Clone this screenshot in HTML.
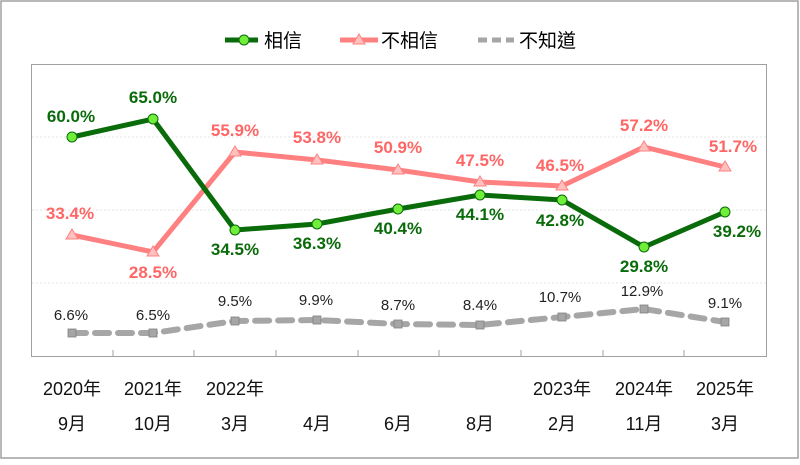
<!DOCTYPE html>
<html><head><meta charset="utf-8"><style>
body{margin:0;background:#fff}
svg text{font-family:"Liberation Sans","Noto Sans CJK TC",sans-serif}
</style></head><body>
<svg width="800" height="460" viewBox="0 0 800 460" xmlns="http://www.w3.org/2000/svg">
<rect x="1" y="1" width="797" height="457" fill="#fff" stroke="#a0a0a0" stroke-width="1.5"/>
<line x1="225" y1="40" x2="258" y2="40" stroke="#0a6b0a" stroke-width="5"/>
<circle cx="244" cy="40" r="5" fill="#6fef3a" stroke="#0a6b0a"/>
<text x="264" y="47" font-size="19" fill="#000">相信</text>
<line x1="340" y1="40" x2="378" y2="40" stroke="#ff8080" stroke-width="5"/>
<polygon points="359,34 365,44 353,44" fill="#ffc0c0" stroke="#ff8080"/>
<text x="381" y="47" font-size="19" fill="#000">不相信</text>
<line x1="478" y1="40" x2="514" y2="40" stroke="#a6a6a6" stroke-width="5" stroke-dasharray="9,5"/>
<text x="519" y="47" font-size="19" fill="#000">不知道</text>
<rect x="31.5" y="64.5" width="735" height="292" fill="#fff" stroke="#a0a0a0"/>
<g stroke="#e4e4e4" stroke-dasharray="2,2"><line x1="32" y1="137" x2="766" y2="137"/><line x1="32" y1="210" x2="766" y2="210"/><line x1="32" y1="283" x2="766" y2="283"/></g>
<g stroke="#a0a0a0"><line x1="113" y1="350" x2="113" y2="356"/><line x1="194" y1="350" x2="194" y2="356"/><line x1="276" y1="350" x2="276" y2="356"/><line x1="358" y1="350" x2="358" y2="356"/><line x1="439" y1="350" x2="439" y2="356"/><line x1="521" y1="350" x2="521" y2="356"/><line x1="603" y1="350" x2="603" y2="356"/><line x1="684" y1="350" x2="684" y2="356"/></g>
<polyline points="72,333 153,333 235,321 317,320 398,324 480,325 562,317 644,309 725,322" fill="none" stroke="#a6a6a6" stroke-width="6" stroke-dasharray="14,9" stroke-linecap="round"/>
<g fill="#a6a6a6" stroke="#808080" stroke-width="0.8">
<rect x="68" y="329" width="8" height="8"/><rect x="149" y="329" width="8" height="8"/><rect x="231" y="317" width="8" height="8"/><rect x="313" y="316" width="8" height="8"/><rect x="394" y="320" width="8" height="8"/><rect x="476" y="321" width="8" height="8"/><rect x="558" y="313" width="8" height="8"/><rect x="640" y="305" width="8" height="8"/><rect x="721" y="318" width="8" height="8"/></g>
<polyline points="72,235 153,252 235,152 317,160 398,170 480,182 562,186 644,147 725,167" fill="none" stroke="#ff8080" stroke-width="5"/>
<g fill="#ffc0c0" stroke="#ff8080">
<polygon points="72,229 78,239 66,239"/><polygon points="153,246 159,256 147,256"/><polygon points="235,146 241,156 229,156"/><polygon points="317,154 323,164 311,164"/><polygon points="398,164 404,174 392,174"/><polygon points="480,176 486,186 474,186"/><polygon points="562,180 568,190 556,190"/><polygon points="644,141 650,151 638,151"/><polygon points="725,161 731,171 719,171"/></g>
<polyline points="72,137 153,119 235,230 317,224 398,209 480,195 562,200 644,247 725,212" fill="none" stroke="#0a6b0a" stroke-width="5"/>
<g fill="#6fef3a" stroke="#0a6b0a">
<circle cx="72" cy="137" r="5"/><circle cx="153" cy="119" r="5"/><circle cx="235" cy="230" r="5"/><circle cx="317" cy="224" r="5"/><circle cx="398" cy="209" r="5"/><circle cx="480" cy="195" r="5"/><circle cx="562" cy="200" r="5"/><circle cx="644" cy="247" r="5"/><circle cx="725" cy="212" r="5"/></g>
<g font-size="17" font-weight="bold" fill="#0a6b0a" text-anchor="middle">
<text x="71" y="122">60.0%</text><text x="153" y="103">65.0%</text><text x="235" y="255">34.5%</text><text x="317" y="249">36.3%</text><text x="398" y="234">40.4%</text><text x="480" y="220">44.1%</text><text x="560" y="226">42.8%</text><text x="644" y="272">29.8%</text><text x="737" y="237">39.2%</text></g>
<g font-size="17" font-weight="bold" fill="#ff6666" text-anchor="middle">
<text x="70" y="219">33.4%</text><text x="153" y="278">28.5%</text><text x="235" y="136">55.9%</text><text x="317" y="143">53.8%</text><text x="398" y="153">50.9%</text><text x="480" y="166">47.5%</text><text x="560" y="171">46.5%</text><text x="644" y="131">57.2%</text><text x="733" y="152">51.7%</text></g>
<g font-size="15" fill="#222" text-anchor="middle">
<text x="71" y="320">6.6%</text><text x="153" y="320">6.5%</text><text x="235" y="306">9.5%</text><text x="316" y="305">9.9%</text><text x="398" y="310">8.7%</text><text x="480" y="310">8.4%</text><text x="560" y="302">10.7%</text><text x="642" y="296">12.9%</text><text x="725" y="308">9.1%</text></g>
<g font-size="18" fill="#111" text-anchor="middle">
<text x="72" y="395">2020年</text><text x="153" y="395">2021年</text><text x="235" y="395">2022年</text><text x="562" y="395">2023年</text><text x="644" y="395">2024年</text><text x="725" y="395">2025年</text>
<text x="72" y="430">9月</text><text x="153" y="430">10月</text><text x="235" y="430">3月</text><text x="317" y="430">4月</text><text x="398" y="430">6月</text><text x="480" y="430">8月</text><text x="562" y="430">2月</text><text x="644" y="430">11月</text><text x="725" y="430">3月</text></g>
</svg>
</body></html>
